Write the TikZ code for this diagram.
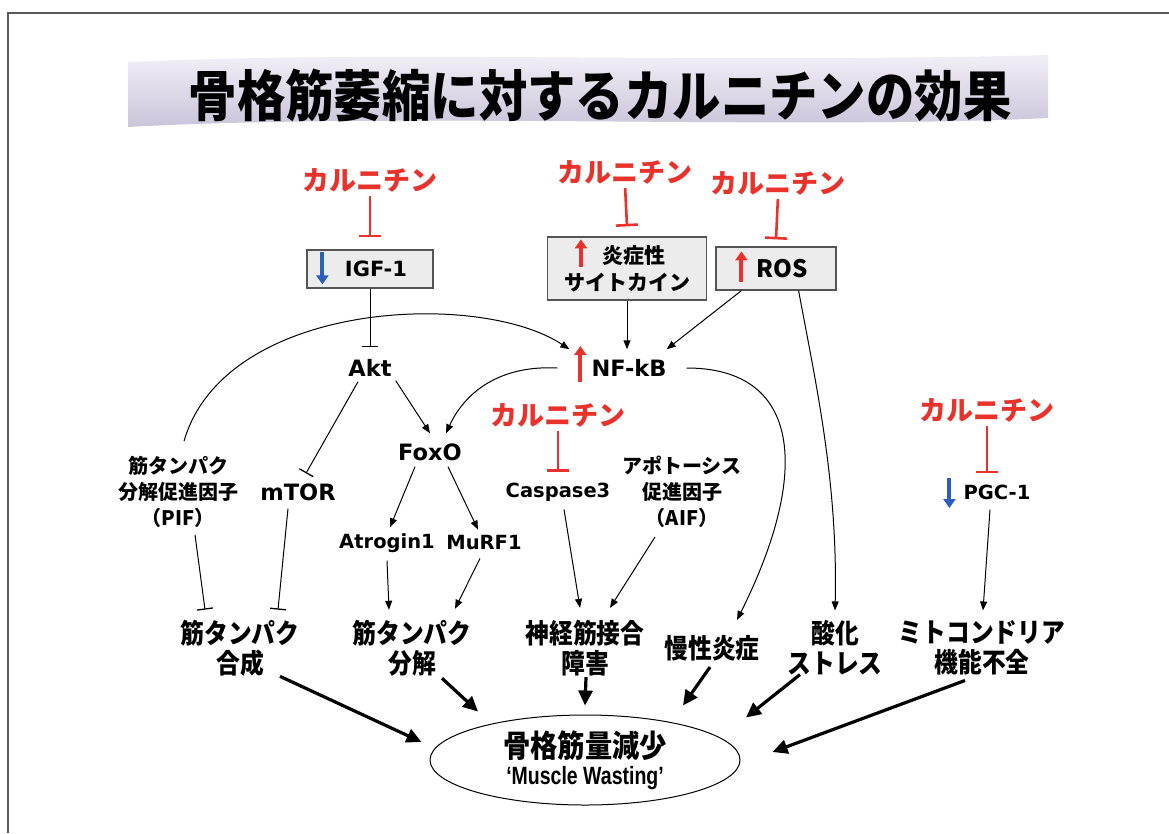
\documentclass[tikz,border=0pt]{standalone}
\usepackage{fontspec}
\setmainfont{DejaVu Sans}
\newfontfamily\jp{Noto Sans CJK JP}
\newfontfamily\jpc{Noto Sans CJK JP}[FakeStretch=0.88]
\newfontfamily\cond{Liberation Sans}[FakeStretch=0.78]
\usetikzlibrary{arrows.meta,shapes.geometric}
\definecolor{carred}{HTML}{E8322B}
\definecolor{arrblue}{HTML}{2D5DBE}
\definecolor{boxfill}{HTML}{ECECEC}
\definecolor{boxline}{HTML}{555555}
\definecolor{lavtop}{HTML}{F4F2F8}
\definecolor{lavbot}{HTML}{C8C3D9}
\begin{document}
\begin{tikzpicture}[x=1pt,y=-1pt,
  carn/.style={text=carred, font=\jp\bfseries\fontsize{27}{30}\selectfont, inner sep=1pt},
  lat/.style={font=\bfseries\fontsize{22.5}{25}\selectfont, inner sep=2pt},
  latsm/.style={font=\bfseries\fontsize{19.5}{22}\selectfont, inner sep=2pt},
  jps/.style={font=\jp\bfseries\fontsize{20}{26}\selectfont, align=center, inner sep=1pt},
  bot/.style={font=\jpc\bfseries\fontsize{27}{30}\selectfont, align=center, inner sep=2pt},
  mybox/.style={draw=boxline, fill=boxfill, line width=1.2pt, inner sep=0pt},
  act/.style={line width=1pt, -{Triangle[length=9pt,width=7pt]}},
  inh/.style={line width=1pt, -{Bar[width=16pt,line width=1.3pt]}},
  rinh/.style={draw=carred, line width=2.6pt, -{Bar[width=22pt,line width=2.6pt]}},
  bigarr/.style={line width=3.2pt, -{Triangle[length=15pt,width=14pt]}},
  uparr/.style={draw=carred, line width=4pt, -{Triangle[length=9pt,width=12pt]}},
  dnarr/.style={draw=arrblue, line width=4pt, -{Triangle[length=9pt,width=12pt]}}]
\useasboundingbox (0,0) rectangle (1169,833);
\fill[white] (0,0) rectangle (1169,833);
\draw[line width=1.5pt, black!65] (8,833) -- (8,13) -- (1169,13);
% title banner
\shade[top color=lavtop, bottom color=lavbot]
  (128,62) .. controls (400,50) and (700,64) .. (1048,55) -- (1048,118)
  .. controls (800,130) and (400,112) .. (128,127) -- cycle;
\node[font=\jpc\bfseries\fontsize{55}{60}\selectfont] (title) at (600,95) {骨格筋萎縮に対するカルニチンの効果};

% carnitine labels
\node[carn] (c1) at (370,180) {カルニチン};
\node[carn] (c2) at (625,172) {カルニチン};
\node[carn] (c3) at (778,183) {カルニチン};
\node[carn] (c4) at (558,415) {カルニチン};
\node[carn] (c5) at (987,410) {カルニチン};

% boxes
\node[mybox, lat, font=\bfseries\fontsize{21}{24}\selectfont, inner sep=0pt, minimum width=126pt, minimum height=38pt] (igf) at (370,269) {\hspace*{12pt}IGF-1};
\node[mybox, jps, font=\jp\bfseries\fontsize{21}{27}\selectfont, minimum width=159pt, minimum height=63pt] (cyto) at (627,268.5) {\hspace*{14pt}炎症性\\サイトカイン};
\node[mybox, lat, font=\jp\bfseries\fontsize{24}{26}\selectfont, inner sep=0pt, minimum width=120pt, minimum height=43pt] (ros) at (776,268.5) {\hspace*{12pt}ROS};

% up/down markers
\draw[dnarr] ([xshift=16pt,yshift=-3pt]igf.north west) -- ++(0,32);
\draw[uparr] ([xshift=34pt,yshift=-31pt]cyto.north west) -- ++(0,-28);
\draw[uparr] ([xshift=26pt,yshift=-36pt]ros.north west) -- ++(0,-31);

% middle nodes
\node[lat] (akt) at (370,368) {Akt};
\node[lat] (nfkb) at (629,368) {NF-kB};
\draw[uparr] ([xshift=-9pt,yshift=-14pt]nfkb.west) -- ++(0,-36);
\node[lat] (foxo) at (430,452) {FoxO};
\node[lat] (mtor) at (298,492) {mTOR};
\node[latsm] (casp) at (558,492) {Caspase3};
\node[latsm] (pgc) at (997,492) {PGC-1};
\draw[dnarr] ([xshift=-12pt,yshift=14pt]pgc.west) -- ++(0,30);
\node[latsm] (atro) at (387,543) {Atrogin1};
\node[latsm] (murf) at (484,543) {MuRF1};
\node[jps] (pif) at (178,492) {筋タンパク\\分解促進因子\\（PIF）};
\node[jps] (aif) at (682,492) {アポトーシス\\促進因子\\（AIF）};

% bottom labels
\node[bot] (gousei) at (240,648) {筋タンパク\\合成};
\node[bot] (bunkai) at (412,648) {筋タンパク\\分解};
\node[bot] (shinkei) at (585,648) {神経筋接合\\障害};
\node[bot] (mansei) at (712,648) {慢性炎症};
\node[bot] (sanka) at (835,648) {酸化\\ストレス};
\node[bot] (mito) at (982,648) {ミトコンドリア\\機能不全};

% ellipse
\node[ellipse, draw, line width=1pt, minimum width=310pt, minimum height=90pt, align=center, inner sep=0pt] (wast) at (585,760)
  {{\jpc\bfseries\fontsize{31}{34}\selectfont 骨格筋量減少}\\[5pt]{\cond\bfseries\fontsize{25}{28}\selectfont ‘Muscle Wasting’}};

% red inhibitions
\draw[rinh, shorten <=3pt] (c1.south) -- ([yshift=12pt]igf.north);
\draw[rinh, shorten <=3pt] (c2.south) -- ([yshift=10pt]cyto.north);
\draw[rinh, shorten <=3pt] (c3.south) -- ([yshift=7pt]ros.north);
\draw[rinh, shorten <=3pt] (c4.south) -- ([yshift=9pt]casp.north);
\coordinate (p5) at ([yshift=9pt]pgc.north);
\draw[rinh, shorten <=3pt] (c5.south) -- (c5.south |- p5);

% black connectors
\draw[inh] (igf.south) -- ([yshift=10pt]akt.north);
\draw[act] (cyto.south) -- ([yshift=8pt]cyto.south |- nfkb.north);
\draw[act] ([xshift=26pt]ros.south west) -- ([xshift=-2pt,yshift=8pt]nfkb.north east);
\draw[act] ([xshift=-38pt]ros.south east) .. controls (815,380) and (838,480) .. ([yshift=8pt]sanka.north);
\draw[act] ([xshift=6pt,yshift=14pt]pif.north) .. controls (225,300) and (480,290) .. ([xshift=-20pt,yshift=8pt]nfkb.north west);
\draw[act] ([xshift=-32pt]nfkb.west) .. controls (500,365) and (465,392) .. ([xshift=16pt,yshift=8pt]foxo.north);
\draw[act] ([xshift=18pt]nfkb.east) .. controls (800,368) and (812,470) .. ([xshift=25pt,yshift=13pt]mansei.north);
\draw[act] ([xshift=2pt,yshift=-2pt]akt.south east) -- ([yshift=8pt]foxo.north);
\draw[inh] ([xshift=-12pt,yshift=-3pt]akt.south) -- ([xshift=8pt,yshift=8pt]mtor.north);
\draw[act] ([xshift=-15pt,yshift=-4pt]foxo.south) -- ([xshift=3pt,yshift=4pt]atro.north);
\draw[act] ([xshift=18pt,yshift=-4pt]foxo.south) -- ([xshift=-6pt,yshift=4pt]murf.north);
\draw[inh] ([xshift=17pt,yshift=-6pt]pif.south) -- ([xshift=-35pt,yshift=8pt]gousei.north);
\draw[inh] ([xshift=-10pt,yshift=-6pt]mtor.south) -- ([xshift=38pt,yshift=8pt]gousei.north);
\draw[act] ([yshift=-6pt]atro.south) -- ([xshift=-23pt,yshift=8pt]bunkai.north);
\draw[act] ([xshift=-4pt,yshift=-6pt]murf.south) -- ([xshift=43pt,yshift=9pt]bunkai.north);
\draw[act] ([xshift=6pt,yshift=-6pt]casp.south) -- ([xshift=-5pt,yshift=10pt]shinkei.north);
\draw[act] ([xshift=-27pt,yshift=-8pt]aif.south) -- ([xshift=25pt,yshift=10pt]shinkei.north);
\draw[act] ([xshift=-7pt,yshift=-8pt]pgc.south) -- ([xshift=1pt,yshift=8pt]mito.north);

% thick arrows to the ellipse
\draw[bigarr] ([xshift=40pt,yshift=2pt]gousei.south) -- ([xshift=-8pt,yshift=18pt]wast.west);
\draw[bigarr] ([xshift=30pt]bunkai.south) -- ([xshift=-107pt,yshift=3pt]wast.north);
\draw[bigarr] ([xshift=1pt,yshift=1pt]shinkei.south) -- ([yshift=9pt]wast.north);
\draw[bigarr] ([xshift=-2pt,yshift=-4pt]mansei.south) -- ([xshift=98pt,yshift=9pt]wast.north);
\draw[bigarr] ([xshift=-35pt,yshift=3pt]sanka.south) -- ([xshift=161pt,yshift=-3pt]wast.north);
\draw[bigarr] ([xshift=-17pt,yshift=-3pt]mito.south) -- ([xshift=32pt,yshift=8pt]wast.east);
\end{tikzpicture}
\end{document}
